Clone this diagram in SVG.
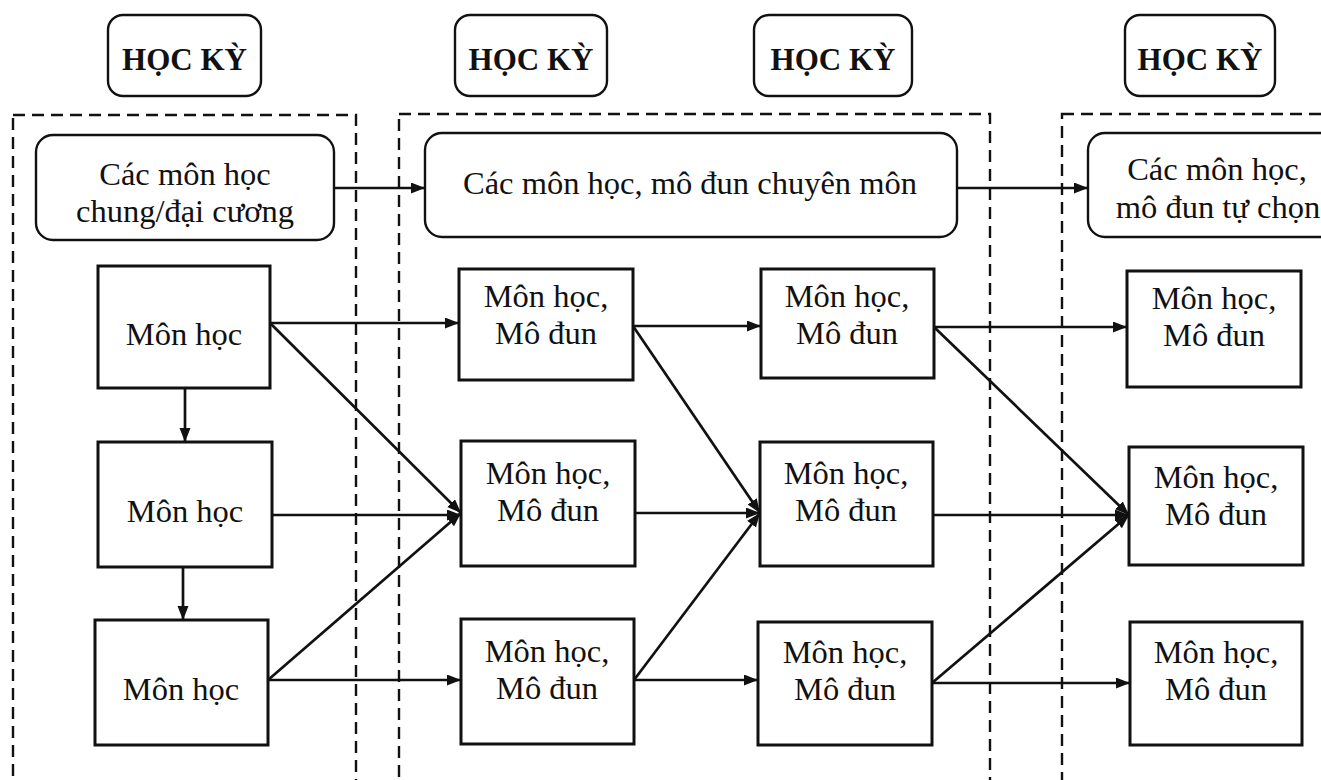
<svg xmlns="http://www.w3.org/2000/svg" width="1321" height="780" viewBox="0 0 1321 780">
<style>
.t{font-family:"Liberation Serif","Times New Roman",serif;font-size:32.5px;fill:#111;text-anchor:middle}
.h{font-family:"Liberation Serif","Times New Roman",serif;font-size:31px;font-weight:bold;fill:#111;text-anchor:middle}
.box{fill:#fff;stroke:#111;stroke-width:3}
.rbox{fill:#fff;stroke:#111;stroke-width:2.4}
.dash{fill:none;stroke:#111;stroke-width:2.4;stroke-dasharray:12 7}
.c{fill:none;stroke:#111;stroke-width:2.7;marker-end:url(#ah)}
</style>
<defs>
<marker id="ah" markerUnits="userSpaceOnUse" markerWidth="15" markerHeight="12" refX="14" refY="5.5" orient="auto">
<path d="M0,0 L14,5.5 L0,11 z" fill="#111"/>
</marker>
</defs>
<rect width="1321" height="780" fill="#fff"/>
<g id="semesters">
<rect class="dash" x="13" y="115" width="343" height="700"/>
<rect class="dash" x="399" y="114" width="591" height="700"/>
<rect class="dash" x="1062" y="114" width="300" height="700"/>
</g>
<g id="hk1"><rect class="rbox" x="108" y="15" width="153" height="81" rx="15"/><text class="h" x="184.5" y="70">HỌC KỲ</text></g>
<g id="hk2"><rect class="rbox" x="455" y="15" width="152" height="81" rx="15"/><text class="h" x="531" y="70">HỌC KỲ</text></g>
<g id="hk3"><rect class="rbox" x="754" y="15" width="158" height="81" rx="15"/><text class="h" x="833" y="70">HỌC KỲ</text></g>
<g id="hk4"><rect class="rbox" x="1125" y="15" width="150" height="81" rx="15"/><text class="h" x="1200" y="70">HỌC KỲ</text></g>
<g id="general"><rect class="rbox" x="36" y="135" width="298" height="105" rx="17"/><text class="t" x="185" y="185">Các môn học</text><text class="t" x="185" y="222">chung/đại cương</text></g>
<g id="specialized"><rect class="rbox" x="425" y="133" width="532" height="104" rx="17"/><text class="t" x="690" y="194">Các môn học, mô đun chuyên môn</text></g>
<g id="elective"><rect class="rbox" x="1088" y="133" width="260" height="104" rx="17"/><text class="t" x="1217" y="180">Các môn học,</text><text class="t" x="1218" y="218">mô đun tự chọn</text></g>
<g id="A"><rect class="box" x="98" y="266" width="172" height="122"/><text class="t" x="184" y="345">Môn học</text></g>
<g id="B"><rect class="box" x="98" y="442" width="174" height="125"/><text class="t" x="185" y="522">Môn học</text></g>
<g id="C"><rect class="box" x="95" y="620" width="173" height="125"/><text class="t" x="181" y="700">Môn học</text></g>
<g id="D"><rect class="box" x="459" y="269" width="174" height="111"/><text class="t" x="546" y="307">Môn học,</text><text class="t" x="546" y="344">Mô đun</text></g>
<g id="E"><rect class="box" x="461" y="441" width="174" height="125"/><text class="t" x="548" y="484">Môn học,</text><text class="t" x="548" y="521">Mô đun</text></g>
<g id="F"><rect class="box" x="461" y="619" width="173" height="125"/><text class="t" x="547" y="662">Môn học,</text><text class="t" x="547" y="699">Mô đun</text></g>
<g id="G"><rect class="box" x="761" y="269" width="173" height="109"/><text class="t" x="847" y="307">Môn học,</text><text class="t" x="847" y="344">Mô đun</text></g>
<g id="H"><rect class="box" x="760" y="442" width="173" height="124"/><text class="t" x="846" y="484">Môn học,</text><text class="t" x="846" y="521">Mô đun</text></g>
<g id="I"><rect class="box" x="758" y="622" width="174" height="123"/><text class="t" x="845" y="663">Môn học,</text><text class="t" x="845" y="700">Mô đun</text></g>
<g id="J"><rect class="box" x="1127" y="271" width="174" height="116"/><text class="t" x="1214" y="309">Môn học,</text><text class="t" x="1214" y="346">Mô đun</text></g>
<g id="K"><rect class="box" x="1129" y="447" width="174" height="118"/><text class="t" x="1216" y="488">Môn học,</text><text class="t" x="1216" y="525">Mô đun</text></g>
<g id="L"><rect class="box" x="1130" y="622" width="172" height="123"/><text class="t" x="1216" y="663">Môn học,</text><text class="t" x="1216" y="700">Mô đun</text></g>
<g id="connectors">
<line class="c" x1="334" y1="188" x2="425" y2="188"/>
<line class="c" x1="957" y1="188" x2="1088" y2="188"/>
<line class="c" x1="185" y1="388" x2="185" y2="442"/>
<line class="c" x1="183" y1="567" x2="183" y2="620"/>
<line class="c" x1="270" y1="323" x2="459" y2="323"/>
<line class="c" x1="270" y1="323" x2="461" y2="513"/>
<line class="c" x1="272" y1="515" x2="461" y2="515"/>
<line class="c" x1="268" y1="680" x2="461" y2="513"/>
<line class="c" x1="268" y1="680" x2="461" y2="680"/>
<line class="c" x1="633" y1="326" x2="761" y2="326"/>
<line class="c" x1="633" y1="326" x2="760" y2="513"/>
<line class="c" x1="635" y1="513" x2="760" y2="513"/>
<line class="c" x1="634" y1="680" x2="760" y2="513"/>
<line class="c" x1="634" y1="680" x2="758" y2="680"/>
<line class="c" x1="934" y1="327" x2="1127" y2="327"/>
<line class="c" x1="934" y1="327" x2="1129" y2="515"/>
<line class="c" x1="933" y1="515" x2="1129" y2="515"/>
<line class="c" x1="932" y1="683" x2="1129" y2="515"/>
<line class="c" x1="932" y1="683" x2="1130" y2="683"/>
</g>
</svg>
